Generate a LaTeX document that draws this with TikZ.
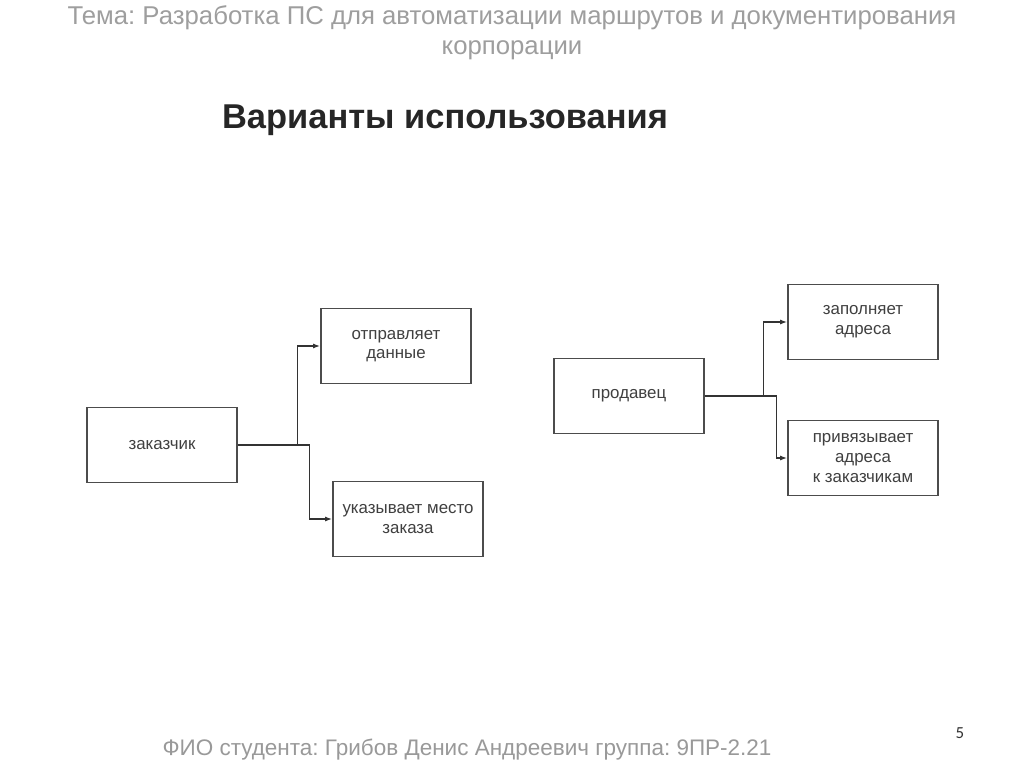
\documentclass[tikz,border=0pt]{standalone}
\usepackage{fontspec}
\setmainfont{Liberation Sans}
\newfontfamily\numfont{Carlito}
\frenchspacing
\usetikzlibrary{arrows.meta,positioning}

\begin{document}
\begin{tikzpicture}[x=0.025cm,y=-0.025cm,
  usecase/.style={draw=black!70,line width=1.1pt,minimum width=3.75cm,minimum height=1.875cm,align=center,font=\fontsize{12}{14}\selectfont,text=black!75},
  link/.style={draw=black!80,line width=0.9pt,-{Latex[length=5pt,width=3.5pt]}}]
\useasboundingbox[fill=white] (0,0) rectangle (1024,767);
% header
\node[text=black!38,font=\fontsize{18.3}{21.5}\selectfont,align=center] (theme) at (512,33) {Тема: Разработка ПС для автоматизации маршрутов и документирования\\корпорации};
\node[text=black!85,font=\fontsize{24.5}{30}\selectfont\bfseries] (title) at (445,120) {Варианты использования};
% left part
\node[usecase] (zak) at (162,445) {заказчик};
\node[usecase] (otp) at (396,346) {отправляет\\данные};
\node[usecase] (uk) at (408,519) {указывает место\\заказа};
\draw[link] (zak.east) -- ++(60,0) |- (otp.west);
\draw[link] (zak.east) -- ++(72,0) |- (uk.west);
% right part
\node[usecase] (prod) at (629,396) {продавец};
\node[usecase] (zap) at (863,322) {заполняет\\адреса};
\node[usecase] (priv) at (863,458) {привязывает\\адреса\\к заказчикам};
\draw[link] (prod.east) -- ++(59,0) |- (zap.west);
\draw[link] (prod.east) -- ++(72,0) |- (priv.west);
% footer
\node[text=black!40,font=\fontsize{16}{19}\selectfont] (fio) at (467,750) {ФИО студента: Грибов Денис Андреевич группа: 9ПР-2.21};
\node[text=black!80,font=\numfont\fontsize{12}{14}\selectfont] (page) at (960,733) {5};
\end{tikzpicture}
\end{document}
